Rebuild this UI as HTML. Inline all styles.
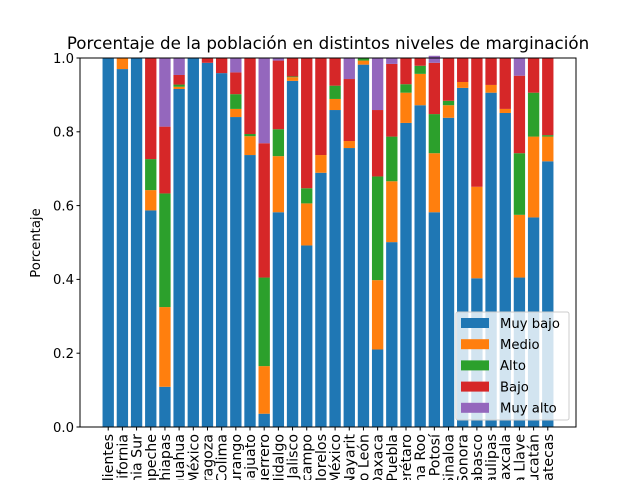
<!DOCTYPE html>
<html><head><meta charset="utf-8"><style>html,body{margin:0;background:#fff;width:640px;height:480px;overflow:hidden}svg{display:block;overflow:hidden;font-family:"DejaVu Sans","Liberation Sans",sans-serif}</style></head>
<body>
<svg id="chart" width="640" height="480" viewBox="0 0 640 480">
<rect width="640" height="480" fill="#fff"/>
<text x="328" y="49" text-anchor="middle" font-size="16.7">Porcentaje de la población en distintos niveles de marginación</text>
<text transform="translate(40,243) rotate(-90)" text-anchor="middle" font-size="13.2">Porcentaje</text>
<g id="bars"></g>
<g id="axes"></g>
<g id="legend"></g>
</svg>
<script>
const categories = ["Aguascalientes","Baja California","Baja California Sur","Campeche","Chiapas","Chihuahua","Ciudad de México","Coahuila de Zaragoza","Colima","Durango","Guanajuato","Guerrero","Hidalgo","Jalisco","Michoacán de Ocampo","Morelos","México","Nayarit","Nuevo León","Oaxaca","Puebla","Querétaro","Quintana Roo","San Luis Potosí","Sinaloa","Sonora","Tabasco","Tamaulipas","Tlaxcala","Veracruz de Ignacio de la Llave","Yucatán","Zacatecas"];
const muyBajo = [1.0,0.97,1.0,0.587,0.109,0.916,1.0,0.987,0.959,0.840,0.737,0.036,0.582,0.938,0.492,0.689,0.859,0.756,0.982,0.210,0.501,0.824,0.872,0.582,0.838,0.919,0.403,0.906,0.851,0.405,0.568,0.720];
const medio = [0,0.03,0,0.055,0.216,0.006,0,0,0,0.022,0.051,0.129,0.152,0.010,0.114,0.048,0.030,0.019,0.011,0.188,0.165,0.082,0.085,0.160,0.034,0.016,0.248,0.021,0.011,0.170,0.219,0.067];
const alto = [0,0,0,0.084,0.308,0.006,0,0,0,0.040,0.006,0.240,0.073,0.002,0.041,0,0.036,0,0.007,0.281,0.121,0.023,0.022,0.106,0.012,0,0,0,0,0.167,0.119,0.004];
const bajo = [0,0,0,0.274,0.181,0.026,0,0.013,0.041,0.059,0.206,0.364,0.186,0.050,0.353,0.263,0.075,0.168,0,0.180,0.197,0.071,0.021,0.139,0.116,0.065,0.349,0.073,0.138,0.210,0.094,0.209];
const muyAlto = [0,0,0,0,0.186,0.046,0,0,0,0.039,0,0.231,0.007,0,0,0,0,0.057,0,0.141,0.016,0,0,0.019,0,0,0,0,0,0.048,0,0];
const yTicks = [0,0.2,0.4,0.6,0.8,1.0];
const seriesNames = ["Muy bajo","Medio","Alto","Bajo","Muy alto"];
const colors = ["#1f77b4","#ff7f0e","#2ca02c","#d62728","#9467bd"];
const series = [muyBajo,medio,alto,bajo,muyAlto];
const NS="http://www.w3.org/2000/svg";
const L=80,R=576,T=58,B=427;
const n=categories.length;
const xmin=-0.4-0.05*(n-0.2), xmax=n-0.6+0.05*(n-0.2);
const xs=v=>L+(v-xmin)/(xmax-xmin)*(R-L);
const ys=v=>B-v*(B-T);
const bw=0.8*(R-L)/(xmax-xmin);
function mk(tag,attrs,parent){const e=document.createElementNS(NS,tag);for(const k in attrs)e.setAttribute(k,attrs[k]);parent.appendChild(e);return e;}
const gb=document.getElementById('bars');
for(let i=0;i<n;i++){
  let base=0;
  for(let s=0;s<series.length;s++){
    const v=series[s][i];
    if(v>0){
      const r=mk('rect',{x:xs(i)-bw/2,y:ys(base+v),width:bw,height:ys(base)-ys(base+v),fill:colors[s]},gb);
      
      
    }
    base+=v;
  }
}
const ga=document.getElementById('axes');
const fr=mk('rect',{x:L,y:T,width:R-L,height:B-T,fill:'none',stroke:'#000','stroke-width':1},ga);


yTicks.forEach(t=>{
  mk('line',{x1:L-3.5,x2:L,y1:ys(t),y2:ys(t),stroke:'#000'},ga);
  const tx=mk('text',{x:L-6,y:ys(t)+4.8,'text-anchor':'end','font-size':13.2},ga);
  tx.textContent=t.toFixed(1);
  
  
});
categories.forEach((c,i)=>{
  const x=xs(i);
  mk('line',{x1:x,x2:x,y1:B,y2:B+3.5,stroke:'#000'},ga);
  const tx=mk('text',{transform:`translate(${x+5},${B+7}) rotate(-90)`,'text-anchor':'end','font-size':14.2},ga);
  tx.textContent=c;
  
  
});
const gl=document.getElementById('legend');
const lb=mk('rect',{x:456,y:312,width:113,height:108,rx:2,fill:'#fff','fill-opacity':0.8,stroke:'#ccc'},gl);


seriesNames.forEach((s,k)=>{
  const y=323+k*21.2;
  const p=mk('rect',{x:461,y:y-5,width:28,height:10,fill:colors[k]},gl);
  
  
  const t=mk('text',{x:500,y:y+4.8,'font-size':13.2},gl);
  t.textContent=s;
  
  
});
</script>
</body></html>
